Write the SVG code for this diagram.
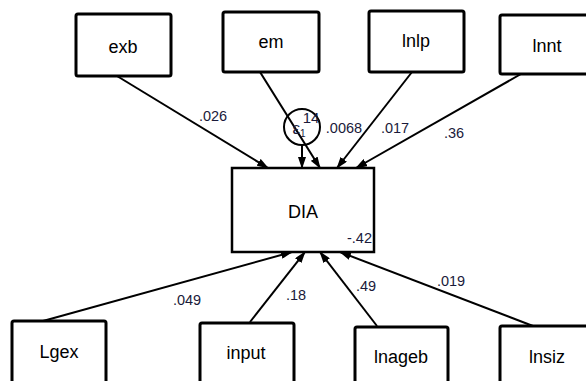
<svg xmlns="http://www.w3.org/2000/svg" width="586" height="381" viewBox="0 0 586 381">
<defs>
<style>
.box{fill:#fff;stroke:#000;stroke-width:3}
.nt{font-family:"Liberation Sans",Arial,sans-serif;font-size:18px;fill:#000;text-anchor:middle}
.lb{font-family:"Liberation Sans",Arial,sans-serif;font-size:14.5px;fill:#1a1a3a;text-anchor:middle}
.ed{stroke:#000;stroke-width:2;fill:none;marker-end:url(#ah)}
</style>
<marker id="ah" markerUnits="userSpaceOnUse" markerWidth="12" markerHeight="8" refX="11" refY="4" orient="auto">
<path d="M0,0 L12,4 L0,8 z" fill="#000"/>
</marker>
</defs>
<rect width="586" height="381" fill="#fff"/>
<g id="connectors">
<line class="ed" x1="117" y1="76" x2="268" y2="168"/>
<line class="ed" x1="260" y1="72" x2="320" y2="168"/>
<line class="ed" x1="412" y1="72" x2="337" y2="168"/>
<line class="ed" x1="521" y1="74" x2="356" y2="168"/>
<line class="ed" x1="302" y1="145" x2="302" y2="168"/>
<line class="ed" x1="43" y1="321" x2="292" y2="252"/>
<line class="ed" x1="250" y1="322" x2="305" y2="252"/>
<line class="ed" x1="377" y1="326" x2="320" y2="252"/>
<line class="ed" x1="533" y1="326" x2="340" y2="252"/>
<text class="lb" x="213" y="121">.026</text>
<text class="lb" x="344" y="133">.0068</text>
<text class="lb" x="395" y="133">.017</text>
<text class="lb" x="454" y="138">.36</text>
<text class="lb" x="187" y="305">.049</text>
<text class="lb" x="296" y="300">.18</text>
<text class="lb" x="366" y="291">.49</text>
<text class="lb" x="451" y="286">.019</text>
</g>
<g id="e1">
<circle cx="302" cy="127" r="18" fill="none" stroke="#000" stroke-width="2"/>
<text class="lb" x="299" y="134" style="font-size:17px">ε<tspan style="font-size:10px" dy="3">1</tspan></text>
<text class="lb" x="311" y="123" style="font-size:15px">14</text>
</g>
<g id="DIA">
<rect class="box" x="232" y="168" width="142" height="84" style="stroke-width:2.5"/>
<text class="nt" x="303" y="218">DIA</text>
<text class="lb" x="372" y="243" style="text-anchor:end">-.42</text>
</g>
<g id="exb"><rect class="box" x="76" y="14" width="95" height="62" rx="2"/><text class="nt" x="123" y="53">exb</text></g>
<g id="em"><rect class="box" x="223" y="12" width="96" height="60" rx="2"/><text class="nt" x="271" y="48">em</text></g>
<g id="lnlp"><rect class="box" x="369" y="11" width="95" height="61" rx="2"/><text class="nt" x="416" y="47">lnlp</text></g>
<g id="lnnt"><rect class="box" x="500" y="15" width="95" height="59" rx="2"/><text class="nt" x="547" y="52">lnnt</text></g>
<g id="Lgex"><rect class="box" x="12" y="321" width="94" height="64" rx="2"/><text class="nt" x="59" y="358">Lgex</text></g>
<g id="input"><rect class="box" x="200" y="323" width="94" height="64" rx="2"/><text class="nt" x="246" y="359">input</text></g>
<g id="lnageb"><rect class="box" x="355" y="327" width="93" height="64" rx="2"/><text class="nt" x="401" y="363">lnageb</text></g>
<g id="lnsiz"><rect class="box" x="500" y="326" width="94" height="64" rx="2"/><text class="nt" x="547" y="363">lnsiz</text></g>
</svg>
